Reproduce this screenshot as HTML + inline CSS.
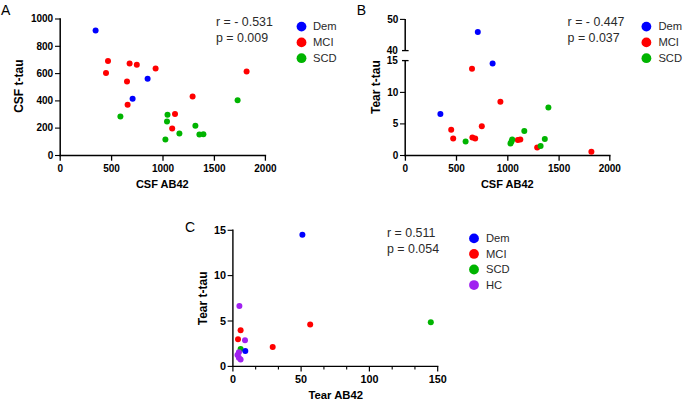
<!DOCTYPE html>
<html><head><meta charset="utf-8"><style>
html,body{margin:0;padding:0;background:#fff;}
svg{display:block;font-family:"Liberation Sans",sans-serif;}
</style></head><body>
<svg width="685" height="405" viewBox="0 0 685 405">
<rect width="685" height="405" fill="#fff"/>
<line x1="60.2" y1="18.3" x2="60.2" y2="156.25" stroke="#000" stroke-width="1.5"/>
<line x1="55.0" y1="19.0" x2="60.2" y2="19.0" stroke="#000" stroke-width="1.1"/>
<text x="53.2" y="22.2" font-size="10" font-weight="bold" text-anchor="end">1000</text>
<line x1="55.0" y1="46.3" x2="60.2" y2="46.3" stroke="#000" stroke-width="1.1"/>
<text x="53.2" y="49.5" font-size="10" font-weight="bold" text-anchor="end">800</text>
<line x1="55.0" y1="73.6" x2="60.2" y2="73.6" stroke="#000" stroke-width="1.1"/>
<text x="53.2" y="76.8" font-size="10" font-weight="bold" text-anchor="end">600</text>
<line x1="55.0" y1="100.9" x2="60.2" y2="100.9" stroke="#000" stroke-width="1.1"/>
<text x="53.2" y="104.1" font-size="10" font-weight="bold" text-anchor="end">400</text>
<line x1="55.0" y1="128.1" x2="60.2" y2="128.1" stroke="#000" stroke-width="1.1"/>
<text x="53.2" y="131.3" font-size="10" font-weight="bold" text-anchor="end">200</text>
<line x1="55.0" y1="155.5" x2="60.2" y2="155.5" stroke="#000" stroke-width="1.1"/>
<text x="53.2" y="158.7" font-size="10" font-weight="bold" text-anchor="end">0</text>
<line x1="59.45" y1="155.5" x2="266.15" y2="155.5" stroke="#000" stroke-width="1.5"/>
<line x1="60.2" y1="155.5" x2="60.2" y2="160.7" stroke="#000" stroke-width="1.3"/>
<text x="60.2" y="172" font-size="10" font-weight="bold" text-anchor="middle">0</text>
<line x1="111.6" y1="155.5" x2="111.6" y2="160.7" stroke="#000" stroke-width="1.3"/>
<text x="111.6" y="172" font-size="10" font-weight="bold" text-anchor="middle">500</text>
<line x1="163.0" y1="155.5" x2="163.0" y2="160.7" stroke="#000" stroke-width="1.3"/>
<text x="163.0" y="172" font-size="10" font-weight="bold" text-anchor="middle">1000</text>
<line x1="214.4" y1="155.5" x2="214.4" y2="160.7" stroke="#000" stroke-width="1.3"/>
<text x="214.4" y="172" font-size="10" font-weight="bold" text-anchor="middle">1500</text>
<line x1="265.4" y1="155.5" x2="265.4" y2="160.7" stroke="#000" stroke-width="1.3"/>
<text x="265.4" y="172" font-size="10" font-weight="bold" text-anchor="middle">2000</text>
<text x="162.3" y="188" font-size="11" font-weight="bold" text-anchor="middle">CSF AB42</text>
<text x="0" y="0" font-size="12" font-weight="bold" text-anchor="middle" transform="translate(23.1,86.2) rotate(-90)">CSF t-tau</text>
<text x="1.1" y="14.5" font-size="14" text-anchor="start">A</text>
<text x="216" y="26.4" font-size="12.4" text-anchor="start" fill="#2a2a2a">r = - 0.531</text>
<text x="216" y="42.4" font-size="12.4" text-anchor="start" fill="#2a2a2a">p = 0.009</text>
<circle cx="301.5" cy="26.6" r="4.9" fill="#0000ff"/>
<text x="313" y="30.2" font-size="11.2" text-anchor="start" fill="#2a2a2a">Dem</text>
<circle cx="301.5" cy="42.400000000000006" r="4.9" fill="#ff0000"/>
<text x="313" y="46.0" font-size="11.2" text-anchor="start" fill="#2a2a2a">MCI</text>
<circle cx="301.5" cy="58.2" r="4.9" fill="#00b400"/>
<text x="313" y="61.8" font-size="11.2" text-anchor="start" fill="#2a2a2a">SCD</text>
<circle cx="120.4" cy="116.6" r="3.0" fill="#00b400"/>
<circle cx="167.5" cy="114.7" r="3.0" fill="#00b400"/>
<circle cx="167" cy="121.4" r="3.0" fill="#00b400"/>
<circle cx="195.4" cy="125.7" r="3.0" fill="#00b400"/>
<circle cx="179.4" cy="133.4" r="3.0" fill="#00b400"/>
<circle cx="199.4" cy="134.4" r="3.0" fill="#00b400"/>
<circle cx="203.4" cy="134.2" r="3.0" fill="#00b400"/>
<circle cx="165.4" cy="139.6" r="3.0" fill="#00b400"/>
<circle cx="237.6" cy="100.2" r="3.0" fill="#00b400"/>
<circle cx="108" cy="61" r="3.0" fill="#ff0000"/>
<circle cx="129.6" cy="63.4" r="3.0" fill="#ff0000"/>
<circle cx="136.8" cy="64.8" r="3.0" fill="#ff0000"/>
<circle cx="155.6" cy="68.4" r="3.0" fill="#ff0000"/>
<circle cx="106" cy="73" r="3.0" fill="#ff0000"/>
<circle cx="127" cy="81.6" r="3.0" fill="#ff0000"/>
<circle cx="192.6" cy="96.5" r="3.0" fill="#ff0000"/>
<circle cx="127.6" cy="104.8" r="3.0" fill="#ff0000"/>
<circle cx="175" cy="113.9" r="3.0" fill="#ff0000"/>
<circle cx="172.2" cy="128.6" r="3.0" fill="#ff0000"/>
<circle cx="246.6" cy="71.5" r="3.0" fill="#ff0000"/>
<circle cx="95.6" cy="30.6" r="3.0" fill="#0000ff"/>
<circle cx="147.6" cy="78.8" r="3.0" fill="#0000ff"/>
<circle cx="132.6" cy="98.8" r="3.0" fill="#0000ff"/>
<line x1="405.2" y1="19.0" x2="405.2" y2="50.6" stroke="#000" stroke-width="1.5"/>
<line x1="405.2" y1="60.6" x2="405.2" y2="156.25" stroke="#000" stroke-width="1.5"/>
<line x1="400.0" y1="19.4" x2="405.2" y2="19.4" stroke="#000" stroke-width="1.1"/>
<text x="398.4" y="22.6" font-size="10" font-weight="bold" text-anchor="end">50</text>
<line x1="402.0" y1="50.6" x2="408.6" y2="50.6" stroke="#000" stroke-width="1.3"/>
<text x="397.9" y="53.6" font-size="10" font-weight="bold" text-anchor="end">40</text>
<line x1="402.0" y1="60.6" x2="408.6" y2="60.6" stroke="#000" stroke-width="1.3"/>
<text x="397.9" y="64.0" font-size="10" font-weight="bold" text-anchor="end">15</text>
<line x1="400.0" y1="92.4" x2="405.2" y2="92.4" stroke="#000" stroke-width="1.1"/>
<text x="398.4" y="95.6" font-size="10" font-weight="bold" text-anchor="end">10</text>
<line x1="400.0" y1="123.9" x2="405.2" y2="123.9" stroke="#000" stroke-width="1.1"/>
<text x="398.4" y="127.1" font-size="10" font-weight="bold" text-anchor="end">5</text>
<line x1="400.0" y1="155.5" x2="405.2" y2="155.5" stroke="#000" stroke-width="1.1"/>
<text x="398.4" y="158.7" font-size="10" font-weight="bold" text-anchor="end">0</text>
<line x1="404.45" y1="155.5" x2="610.55" y2="155.5" stroke="#000" stroke-width="1.5"/>
<line x1="405.4" y1="155.5" x2="405.4" y2="160.7" stroke="#000" stroke-width="1.3"/>
<text x="405.4" y="172" font-size="10" font-weight="bold" text-anchor="middle">0</text>
<line x1="456.5" y1="155.5" x2="456.5" y2="160.7" stroke="#000" stroke-width="1.3"/>
<text x="456.5" y="172" font-size="10" font-weight="bold" text-anchor="middle">500</text>
<line x1="507.8" y1="155.5" x2="507.8" y2="160.7" stroke="#000" stroke-width="1.3"/>
<text x="507.8" y="172" font-size="10" font-weight="bold" text-anchor="middle">1000</text>
<line x1="559.1" y1="155.5" x2="559.1" y2="160.7" stroke="#000" stroke-width="1.3"/>
<text x="559.1" y="172" font-size="10" font-weight="bold" text-anchor="middle">1500</text>
<line x1="609.8" y1="155.5" x2="609.8" y2="160.7" stroke="#000" stroke-width="1.3"/>
<text x="609.8" y="172" font-size="10" font-weight="bold" text-anchor="middle">2000</text>
<text x="507.3" y="188" font-size="11" font-weight="bold" text-anchor="middle">CSF AB42</text>
<text x="0" y="0" font-size="12" font-weight="bold" text-anchor="middle" transform="translate(379.8,87.1) rotate(-90)">Tear t-tau</text>
<text x="356.7" y="14.5" font-size="14" text-anchor="start">B</text>
<text x="567.6" y="26.2" font-size="12.4" text-anchor="start" fill="#2a2a2a">r = - 0.447</text>
<text x="567.6" y="42.4" font-size="12.4" text-anchor="start" fill="#2a2a2a">p = 0.037</text>
<circle cx="646.4" cy="26.6" r="4.9" fill="#0000ff"/>
<text x="658.4" y="30.2" font-size="11.2" text-anchor="start" fill="#2a2a2a">Dem</text>
<circle cx="646.4" cy="42.400000000000006" r="4.9" fill="#ff0000"/>
<text x="658.4" y="46.0" font-size="11.2" text-anchor="start" fill="#2a2a2a">MCI</text>
<circle cx="646.4" cy="58.2" r="4.9" fill="#00b400"/>
<text x="658.4" y="61.8" font-size="11.2" text-anchor="start" fill="#2a2a2a">SCD</text>
<circle cx="472" cy="68.8" r="3.0" fill="#ff0000"/>
<circle cx="500.4" cy="101.8" r="3.0" fill="#ff0000"/>
<circle cx="481.8" cy="126.2" r="3.0" fill="#ff0000"/>
<circle cx="451.2" cy="129.8" r="3.0" fill="#ff0000"/>
<circle cx="453.2" cy="138.6" r="3.0" fill="#ff0000"/>
<circle cx="472.4" cy="137.4" r="3.0" fill="#ff0000"/>
<circle cx="475.2" cy="138.4" r="3.0" fill="#ff0000"/>
<circle cx="517.8" cy="140" r="3.0" fill="#ff0000"/>
<circle cx="520.3" cy="139.5" r="3.0" fill="#ff0000"/>
<circle cx="537.2" cy="147.5" r="3.0" fill="#ff0000"/>
<circle cx="591.4" cy="151.8" r="3.0" fill="#ff0000"/>
<circle cx="465.6" cy="141.4" r="3.0" fill="#00b400"/>
<circle cx="512.2" cy="139.4" r="3.0" fill="#00b400"/>
<circle cx="510.5" cy="143.6" r="3.0" fill="#00b400"/>
<circle cx="511.5" cy="141.5" r="3.0" fill="#00b400"/>
<circle cx="524.3" cy="130.9" r="3.0" fill="#00b400"/>
<circle cx="548.4" cy="107.4" r="3.0" fill="#00b400"/>
<circle cx="544.8" cy="138.9" r="3.0" fill="#00b400"/>
<circle cx="540.6" cy="146.1" r="3.0" fill="#00b400"/>
<circle cx="477.8" cy="32" r="3.0" fill="#0000ff"/>
<circle cx="492.6" cy="63.6" r="3.0" fill="#0000ff"/>
<circle cx="440.4" cy="114" r="3.0" fill="#0000ff"/>
<line x1="232.9" y1="229.6" x2="232.9" y2="367.1" stroke="#000" stroke-width="1.4"/>
<line x1="227.6" y1="230.3" x2="232.9" y2="230.3" stroke="#000" stroke-width="1.1"/>
<text x="225.9" y="233.8" font-size="10.8" font-weight="bold" text-anchor="end">15</text>
<line x1="227.6" y1="275.6" x2="232.9" y2="275.6" stroke="#000" stroke-width="1.1"/>
<text x="225.9" y="279.1" font-size="10.8" font-weight="bold" text-anchor="end">10</text>
<line x1="227.6" y1="321.0" x2="232.9" y2="321.0" stroke="#000" stroke-width="1.1"/>
<text x="225.9" y="324.5" font-size="10.8" font-weight="bold" text-anchor="end">5</text>
<line x1="227.6" y1="366.4" x2="232.9" y2="366.4" stroke="#000" stroke-width="1.1"/>
<text x="225.9" y="369.9" font-size="10.8" font-weight="bold" text-anchor="end">0</text>
<line x1="232.2" y1="366.4" x2="438.4" y2="366.4" stroke="#000" stroke-width="1.4"/>
<line x1="232.9" y1="366.4" x2="232.9" y2="371.6" stroke="#000" stroke-width="1.2"/>
<text x="232.9" y="383.2" font-size="10.8" font-weight="bold" text-anchor="middle">0</text>
<line x1="301.1" y1="366.4" x2="301.1" y2="371.6" stroke="#000" stroke-width="1.2"/>
<text x="301.1" y="383.2" font-size="10.8" font-weight="bold" text-anchor="middle">50</text>
<line x1="369.4" y1="366.4" x2="369.4" y2="371.6" stroke="#000" stroke-width="1.2"/>
<text x="369.4" y="383.2" font-size="10.8" font-weight="bold" text-anchor="middle">100</text>
<line x1="437.7" y1="366.4" x2="437.7" y2="371.6" stroke="#000" stroke-width="1.2"/>
<text x="437.7" y="383.2" font-size="10.8" font-weight="bold" text-anchor="middle">150</text>
<line x1="255.66" y1="366.4" x2="255.66" y2="369.4" stroke="#000" stroke-width="1.1"/>
<line x1="278.41" y1="366.4" x2="278.41" y2="369.4" stroke="#000" stroke-width="1.1"/>
<line x1="323.92" y1="366.4" x2="323.92" y2="369.4" stroke="#000" stroke-width="1.1"/>
<line x1="346.68" y1="366.4" x2="346.68" y2="369.4" stroke="#000" stroke-width="1.1"/>
<line x1="392.19" y1="366.4" x2="392.19" y2="369.4" stroke="#000" stroke-width="1.1"/>
<line x1="414.94" y1="366.4" x2="414.94" y2="369.4" stroke="#000" stroke-width="1.1"/>
<text x="335.8" y="399.2" font-size="11.3" font-weight="bold" text-anchor="middle">Tear AB42</text>
<text x="0" y="0" font-size="12" font-weight="bold" text-anchor="middle" transform="translate(207.3,298.4) rotate(-90)">Tear t-tau</text>
<text x="185.1" y="231.6" font-size="14" text-anchor="start">C</text>
<text x="387" y="236.6" font-size="12.4" text-anchor="start" fill="#2a2a2a">r = 0.511</text>
<text x="387" y="253" font-size="12.4" text-anchor="start" fill="#2a2a2a">p = 0.054</text>
<circle cx="474" cy="238.4" r="4.9" fill="#0000ff"/>
<text x="486" y="242.0" font-size="11.2" text-anchor="start" fill="#2a2a2a">Dem</text>
<circle cx="474" cy="253.95000000000002" r="4.9" fill="#ff0000"/>
<text x="486" y="257.55" font-size="11.2" text-anchor="start" fill="#2a2a2a">MCI</text>
<circle cx="474" cy="269.5" r="4.9" fill="#00b400"/>
<text x="486" y="273.1" font-size="11.2" text-anchor="start" fill="#2a2a2a">SCD</text>
<circle cx="474" cy="285.05" r="4.9" fill="#a020f0"/>
<text x="486" y="288.65" font-size="11.2" text-anchor="start" fill="#2a2a2a">HC</text>
<circle cx="240.6" cy="349" r="3.0" fill="#00b400"/>
<circle cx="302.4" cy="234.7" r="3.0" fill="#0000ff"/>
<circle cx="245.3" cy="350.9" r="3.0" fill="#0000ff"/>
<circle cx="240.6" cy="330.2" r="3.0" fill="#ff0000"/>
<circle cx="238" cy="339.2" r="3.0" fill="#ff0000"/>
<circle cx="272.7" cy="347" r="3.0" fill="#ff0000"/>
<circle cx="310.2" cy="324.4" r="3.0" fill="#ff0000"/>
<circle cx="430.8" cy="322.2" r="3.0" fill="#00b400"/>
<circle cx="239.4" cy="306" r="3.0" fill="#a020f0"/>
<circle cx="245" cy="340.3" r="3.0" fill="#a020f0"/>
<circle cx="238.9" cy="352.2" r="3.0" fill="#a020f0"/>
<circle cx="237.5" cy="355" r="3.0" fill="#a020f0"/>
<circle cx="238.9" cy="357.8" r="3.0" fill="#a020f0"/>
<circle cx="240.6" cy="359.4" r="3.0" fill="#a020f0"/>
</svg>
</body></html>
